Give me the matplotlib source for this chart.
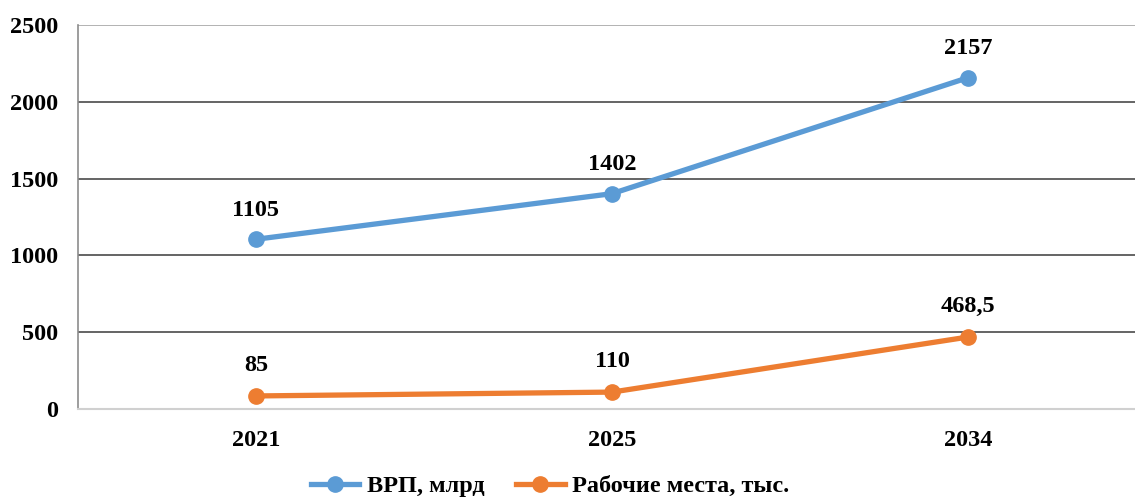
import matplotlib
matplotlib.use("Agg")
import matplotlib.pyplot as plt
from matplotlib.lines import Line2D

years = ["2021", "2025", "2034"]
vrp = [1105, 1402, 2157]
jobs = [85, 110, 468.5]
vrp_labels = ["1105", "1402", "2157"]
jobs_labels = ["85", "110", "468,5"]
series_names = ["ВРП, млрд", "Рабочие места, тыс."]
yticks = [0, 500, 1000, 1500, 2000, 2500]

blue = "#5B9BD5"
orange = "#ED7D31"
font = ["Liberation Serif", "DejaVu Serif"]
plt.rcParams["font.family"] = font
plt.rcParams["font.weight"] = "bold"
FS = 17.5

fig = plt.figure(figsize=(11.35, 4.99), dpi=100)
W, H = 1135, 499
left, right, top, bottom = 78, 1146, 25, 409
ax = fig.add_axes([left / W, (H - bottom) / H, (right - left) / W, (bottom - top) / H])

x = list(range(len(years)))
ax.plot(x, vrp, color=blue, lw=3.8, marker="o", ms=11, solid_capstyle="round", zorder=3)
ax.plot(x, jobs, color=orange, lw=3.8, marker="o", ms=11, solid_capstyle="round", zorder=3)

for xi, v, t in zip(x, vrp, vrp_labels):
    ax.annotate(t, (xi, v), xytext=(0, 21), textcoords="offset points",
                ha="center", va="center", fontsize=FS, fontweight="bold")
for xi, v, t in zip(x, jobs, jobs_labels):
    ax.annotate(t, (xi, v), xytext=(0, 22), textcoords="offset points",
                ha="center", va="center", fontsize=FS, fontweight="bold")

ax.set_xlim(-0.5, 2.5)
ax.set_ylim(0, 2500)
ax.set_yticks(yticks)
ax.set_yticklabels([str(t) for t in yticks], fontsize=FS, fontweight="bold")
ax.set_xticks(x)
ax.set_xticklabels(years, fontsize=FS, fontweight="bold")
ax.tick_params(axis="y", length=0, pad=14)
ax.tick_params(axis="x", length=0, pad=15)

for yv in yticks[1:-1]:
    ax.axhline(yv, color="#4a4a4a", lw=1.2, zorder=1)
ax.axhline(2500, color="#a6a6a6", lw=1.2, zorder=1)

for s in ["top", "right"]:
    ax.spines[s].set_visible(False)
ax.spines["left"].set_color("#8c8c8c")
ax.spines["left"].set_linewidth(1.2)
ax.spines["bottom"].set_color("#d0d0d0")
ax.spines["bottom"].set_linewidth(1.5)

handles = [Line2D([], [], color=blue, lw=3.8, marker="o", ms=11),
           Line2D([], [], color=orange, lw=3.8, marker="o", ms=11)]
fig.legend(handles, series_names, loc="center", bbox_to_anchor=(550 / W, 13 / H),
           ncol=2, frameon=False, handlelength=2.0,
           handletextpad=0.3, columnspacing=1.3, borderpad=0.1,
           prop={"weight": "bold", "size": FS})

fig.savefig("out.png", dpi=100)
